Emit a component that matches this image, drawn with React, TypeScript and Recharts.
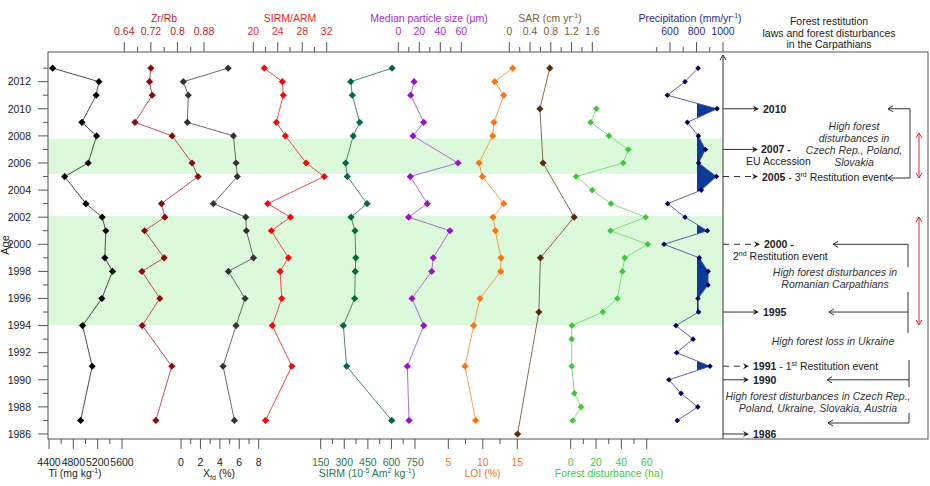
import React from 'react';
import { ComposedChart, Line, Area, XAxis, YAxis, ReferenceArea } from 'recharts';

// ---- data ----
const sampleYears = [2013, 2012, 2011, 2009, 2008, 2006, 2005, 2003, 2002, 2001, 1999, 1998, 1996, 1994, 1991, 1987];
const tiValues = [4460, 5220, 5175, 4941, 5182, 5044, 4657, 5007, 5274, 5334, 5318, 5444, 5269, 4952, 5110, 4920];
const zrRbValues = [0.72, 0.716, 0.724, 0.672, 0.784, 0.844, 0.862, 0.752, 0.762, 0.701, 0.76, 0.693, 0.747, 0.694, 0.783, 0.735];
const xfdValues = [4.85, 0.24, 0.75, 0.65, 5.4, 5.67, 5.8, 3.33, 6.67, 6.73, 7.46, 4.88, 6.6, 5.67, 4.33, 5.5];
const sirmArmValues = [21.8, 24.75, 24.9, 23.77, 25.25, 28.64, 31.6, 22.35, 26.07, 22.95, 25.74, 24.38, 24.65, 23.1, 26.3, 22.0];
const sirmValues = [604, 341, 351, 398, 357, 309, 319, 445, 343, 368, 373, 370, 366, 294, 315, 602];
const loiValues = [14.33, 11.72, 13.03, 11.62, 11.43, 9.45, 9.93, 13.03, 11.48, 11.82, 12.64, 12.59, 9.59, 8.68, 7.42, 8.97];

const medianYears = [2012, 2011, 2009, 2008, 2006, 2005, 2003, 2002, 2001, 1999, 1998, 1996, 1994, 1991, 1987];
const medianValues = [15, 11.8, 24.2, 14, 56.9, 11.4, 27.6, 9.9, 49.2, 33.3, 31.8, 13, 24.2, 8.6, 10.2];

const sarYears = [2013, 2010, 2006, 2002, 1999, 1995, 1986];
const sarValues = [0.78, 0.59, 0.65, 1.25, 0.6, 0.57, 0.16];

const forestYears = [2010, 2009, 2008, 2007, 2006, 2005, 2004, 2003, 2002, 2001, 2000, 1999, 1998, 1996, 1995, 1994, 1993, 1991, 1989, 1988, 1987];
const forestValues = [20.2, 15.8, 30.2, 45.5, 41.5, 4.2, 17, 31.8, 59.2, 31.5, 60.8, 42.6, 40.8, 36.8, 25.3, 1.0, 0.8, 0.8, 2.9, 8.1, 1.6];

const precipYears = [2013, 2012, 2011, 2010, 2009, 2008, 2007, 2006, 2005, 2004, 2003, 2002, 2001, 2000, 1999, 1998, 1997, 1996, 1995, 1994, 1993, 1992, 1991, 1990, 1989, 1988, 1987];
const precipValues = [812, 713, 580, 955, 731, 814, 867, 816, 950, 836, 582, 713, 882, 555, 821, 887, 887, 811, 816, 645, 774, 650, 902, 592, 683, 810, 655];
const precipThreshold = 800;

const majorYears = [1986, 1988, 1990, 1992, 1994, 1996, 1998, 2000, 2002, 2004, 2006, 2008, 2010, 2012];
const minorYears = [1987, 1989, 1991, 1993, 1995, 1997, 1999, 2001, 2003, 2005, 2007, 2009, 2011, 2013];

const bands = [
  [1994, 2002.1],
  [2005.2, 2007.8],
];

// ---- layout ----
const W = 930;
const H = 486;
const PLOT_LEFT = 48;
const PLOT_RIGHT = 928;
const PLOT_TOP = 52;
const PLOT_BOTTOM = 439;
const AGE_DOMAIN: [number, number] = [1985.63, 2014.19];
const FONT = '"Liberation Sans", Arial, Helvetica, sans-serif';
const FRAME = '#555';
const TEXT = '#222';
const BAND = '#dcf9dc';

type AxisDef = {
  id: string;
  side: 'top' | 'bottom';
  v0: number; p0: number; v1: number; p1: number;
  major: number[];
  minor: number[];
  color: string;
};

const axisDefs: AxisDef[] = [
  { id: 'ti', side: 'bottom', v0: 4400, p0: 49, v1: 5600, p1: 122, major: [4400, 4800, 5200, 5600], minor: [4600, 5000, 5400], color: TEXT },
  { id: 'zr', side: 'top', v0: 0.64, p0: 124.3, v1: 0.88, p1: 204, major: [0.64, 0.72, 0.8, 0.88], minor: [0.68, 0.76, 0.84], color: '#c3262b' },
  { id: 'xfd', side: 'bottom', v0: 0, p0: 181, v1: 8, p1: 258.7, major: [0, 2, 4, 6, 8], minor: [1, 3, 5, 7], color: TEXT },
  { id: 'sirmArm', side: 'top', v0: 20, p0: 253.3, v1: 32, p1: 326.7, major: [20, 24, 28, 32], minor: [22, 26, 30], color: '#ec2a2a' },
  { id: 'sirm', side: 'bottom', v0: 150, p0: 320.7, v1: 750, p1: 415, major: [150, 300, 450, 600, 750], minor: [225, 375, 525, 675], color: '#2a7b52' },
  { id: 'median', side: 'top', v0: 0, p0: 398.3, v1: 60, p1: 461.3, major: [0, 20, 40, 60], minor: [10, 30, 50], color: '#a12fd4' },
  { id: 'loi', side: 'bottom', v0: 5, p0: 448.3, v1: 15, p1: 517.3, major: [5, 10, 15], minor: [7.5, 12.5], color: '#f17b22' },
  { id: 'sar', side: 'top', v0: 0, p0: 509.3, v1: 1.6, p1: 592.3, major: [0, 0.4, 0.8, 1.2, 1.6], minor: [0.2, 0.6, 1.0, 1.4], color: '#8a5a2c' },
  { id: 'forest', side: 'bottom', v0: 0, p0: 570.7, v1: 60, p1: 646.7, major: [0, 20, 40, 60], minor: [10, 30, 50], color: '#45c845' },
  { id: 'precip', side: 'top', v0: 600, p0: 670, v1: 1000, p1: 723, major: [600, 800, 1000], minor: [500, 700, 900], color: '#2d2d8c' },
];

const axisById = (id: string) => axisDefs.find((a) => a.id === id) as AxisDef;

const domainOf = (a: AxisDef): [number, number] => {
  const k = (a.p1 - a.p0) / (a.v1 - a.v0);
  return [a.v0 - (a.p0 - PLOT_LEFT) / k, a.v0 + (PLOT_RIGHT - a.p0) / k];
};

const pxOf = (a: AxisDef, v: number) => a.p0 + ((v - a.v0) * (a.p1 - a.p0)) / (a.v1 - a.v0);

const yOf = (yr: number) =>
  PLOT_TOP + ((AGE_DOMAIN[1] - yr) / (AGE_DOMAIN[1] - AGE_DOMAIN[0])) * (PLOT_BOTTOM - PLOT_TOP);

const rows = (years: number[], values: number[]) => years.map((year, i) => ({ year, v: values[i] }));

const axisTick = (a: AxisDef) => (props: any) => {
  const { x, y, payload } = props;
  const isMajor = a.major.includes(payload.value);
  const up = a.side === 'top';
  const len = isMajor ? 10 : 5;
  return (
    <g>
      <line x1={x} x2={x} y1={y} y2={up ? y - len : y + len} stroke={FRAME} strokeWidth={1} />
      {isMajor && (
        <text x={x} y={up ? y - 17.5 : y + 27} textAnchor="middle" fontSize={10.5} fontFamily={FONT} fill={a.color}>
          {String(payload.value)}
        </text>
      )}
    </g>
  );
};

const yearTick = (props: any) => {
  const { x, y, payload } = props;
  const isMajor = majorYears.includes(payload.value);
  return (
    <g>
      <line x1={x} x2={x - (isMajor ? 10 : 5)} y1={y} y2={y} stroke={FRAME} strokeWidth={1} />
      {isMajor && (
        <text x={x - 17} y={y + 3.8} textAnchor="end" fontSize={10.5} fontFamily={FONT} fill={TEXT}>
          {payload.value}
        </text>
      )}
    </g>
  );
};

const diamond = (fill: string, r: number) => (p: any) => {
  const { cx, cy, index } = p;
  if (cx == null || cy == null) return <g key={index} />;
  return <path key={index} d={`M${cx},${cy - r}L${cx + r},${cy}L${cx},${cy + r}L${cx - r},${cy}Z`} fill={fill} />;
};

const series = [
  { id: 'ti', data: rows(sampleYears, tiValues), line: '#3a3a3a', dot: '#000', r: 3.6 },
  { id: 'zr', data: rows(sampleYears, zrRbValues), line: '#b04040', dot: '#8b0a0a', r: 3.6 },
  { id: 'xfd', data: rows(sampleYears, xfdValues), line: '#5a5a5a', dot: '#333', r: 3.6 },
  { id: 'sirmArm', data: rows(sampleYears, sirmArmValues), line: '#f03a3a', dot: '#ee0a0a', r: 3.6 },
  { id: 'sirm', data: rows(sampleYears, sirmValues), line: '#3a7d60', dot: '#05683a', r: 3.6 },
  { id: 'median', data: rows(medianYears, medianValues), line: '#a860d4', dot: '#9a10cc', r: 3.6 },
  { id: 'loi', data: rows(sampleYears, loiValues), line: '#f99040', dot: '#fa7510', r: 3.6 },
  { id: 'sar', data: rows(sarYears, sarValues), line: '#7d5a3a', dot: '#5a2d0a', r: 3.6 },
  { id: 'forest', data: rows(forestYears, forestValues), line: '#70dd70', dot: '#3cc83c', r: 3.3 },
];

const precipRows = rows(precipYears, precipValues);

// superscript: raised text followed by the rest of the line at normal baseline
const Sup = ({ s, after }: { s: string; after: string }) => (
  <>
    <tspan dy={-4} fontSize={7}>{s}</tspan>
    <tspan dy={4}>{after}</tspan>
  </>
);

const ArrowRight = ({ x1, x2, y, dashed }: { x1: number; x2: number; y: number; dashed?: boolean }) => (
  <g>
    <line x1={x1} x2={x2 - 3} y1={y} y2={y} stroke="#333" strokeWidth={1} strokeDasharray={dashed ? '6 5' : undefined} />
    <path d={`M${x2 - 6},${y - 3}L${x2},${y}L${x2 - 6},${y + 3}L${x2 - 4},${y}Z`} fill="#222" />
  </g>
);

const ChevLeft = ({ x, y, color = '#333' }: { x: number; y: number; color?: string }) => (
  <polyline points={`${x + 5},${y - 3} ${x},${y} ${x + 5},${y + 3}`} fill="none" stroke={color} strokeWidth={1} />
);

const RedDouble = ({ x, y1, y2 }: { x: number; y1: number; y2: number }) => (
  <g stroke="#e8262a" strokeWidth={1} fill="none">
    <line x1={x} x2={x} y1={y1} y2={y2} />
    <polyline points={`${x - 3},${y1 + 5} ${x},${y1} ${x + 3},${y1 + 5}`} />
    <polyline points={`${x - 3},${y2 - 5} ${x},${y2} ${x + 3},${y2 - 5}`} />
  </g>
);

export default function App() {
  const precipAxis = axisById('precip');
  // clip starts on a whole pixel so the part of the area left of the threshold leaves no sliver
  const clipX = Math.ceil(pxOf(precipAxis, precipThreshold));
  const arrowX = pxOf(precipAxis, 1000);

  return (
    <div style={{ position: 'absolute', left: 0, top: 0, width: W, height: H, background: '#fff' }}>
      <ComposedChart
        width={W}
        height={H}
        layout="vertical"
        margin={{ top: PLOT_TOP, right: W - PLOT_RIGHT, bottom: H - PLOT_BOTTOM, left: PLOT_LEFT - 40 }}
      >
        <YAxis
          type="number"
          dataKey="year"
          domain={AGE_DOMAIN}
          allowDataOverflow
          reversed
          ticks={[...majorYears, ...minorYears]}
          interval={0}
          width={40}
          tickSize={0}
          tickMargin={0}
          tickLine={false}
          axisLine={false}
          tick={yearTick}
        />
        {axisDefs.map((a) => (
          <XAxis
            key={a.id}
            xAxisId={a.id}
            type="number"
            orientation={a.side}
            domain={domainOf(a)}
            allowDataOverflow
            height={0.001}
            ticks={[...a.major, ...a.minor]}
            interval={0}
            tickSize={0}
            tickMargin={0}
            tickLine={false}
            axisLine={false}
            tick={axisTick(a)}
          />
        ))}
        {bands.map(([lo, hi]) => (
          <ReferenceArea key={lo} xAxisId="precip" x2={1000} y1={lo} y2={hi} fill={BAND} fillOpacity={1} stroke="none" />
        ))}
        {series.map((s) => (
          <Line
            key={s.id}
            xAxisId={s.id}
            data={s.data}
            dataKey="v"
            type="linear"
            stroke={s.line}
            strokeWidth={0.9}
            dot={diamond(s.dot, s.r)}
            activeDot={false}
            isAnimationActive={false}
          />
        ))}
        <Area
          xAxisId="precip"
          data={precipRows}
          dataKey="v"
          type="linear"
          baseValue={precipThreshold}
          fill="#0a3a9a"
          fillOpacity={1}
          stroke="none"
          clipPath="url(#precipClip)"
          dot={false}
          activeDot={false}
          isAnimationActive={false}
        />
        <Line
          xAxisId="precip"
          data={precipRows}
          dataKey="v"
          type="linear"
          stroke="#50509a"
          strokeWidth={0.9}
          dot={diamond('#000066', 2.8)}
          activeDot={false}
          isAnimationActive={false}
        />
      </ComposedChart>

      <svg
        width={W}
        height={H}
        style={{ position: 'absolute', left: 0, top: 0, pointerEvents: 'none' }}
        fontFamily={FONT}
      >
        <defs>
          <clipPath id="precipClip" clipPathUnits="userSpaceOnUse">
            <rect x={clipX} y={PLOT_TOP} width={PLOT_RIGHT - clipX} height={PLOT_BOTTOM - PLOT_TOP} />
          </clipPath>
        </defs>

        {/* plot frame */}
        <rect
          x={PLOT_LEFT}
          y={PLOT_TOP}
          width={PLOT_RIGHT - PLOT_LEFT}
          height={PLOT_BOTTOM - PLOT_TOP}
          fill="none"
          stroke={FRAME}
          strokeWidth={1}
        />

        {/* axis titles, top */}
        <g fontSize={10.5} textAnchor="middle">
          <text x={164} y={21.5} fill="#c3262b">Zr/Rb</text>
          <text x={290} y={21.5} fill="#ec2a2a">SIRM/ARM</text>
          <text x={429} y={21.5} fill="#a12fd4">Median particle size (μm)</text>
          <text x={550} y={21.5} fill="#8a5a2c">
            SAR (cm yr<Sup s="-1" after=")" />
          </text>
          <text x={690} y={21.5} fill="#2d2d8c">
            Precipitation (mm/yr<Sup s="-1" after=")" />
          </text>
          <text x={829} y={25} fill={TEXT}>Forest restitution</text>
          <text x={829} y={37} fill={TEXT}>laws and forest disturbances</text>
          <text x={829} y={48} fill={TEXT}>in the Carpathians</text>
        </g>

        {/* axis titles, bottom */}
        <g fontSize={10.5} textAnchor="middle">
          <text x={75} y={477} fill={TEXT}>
            Ti (mg kg<Sup s="-1" after=")" />
          </text>
          <text x={219} y={477} fill={TEXT}>
            X<tspan dy={3} fontSize={7}>fd</tspan>
            <tspan dy={-3}> (%)</tspan>
          </text>
          <text x={367} y={477} fill="#2a7b52">
            SIRM (10<Sup s="-5" after=" Am" />
            <Sup s="2" after=" kg" />
            <Sup s="-1" after=")" />
          </text>
          <text x={482.5} y={477} fill="#f17b22">LOI (%)</text>
          <text x={609} y={477} fill="#45c845">Forest disturbance (ha)</text>
        </g>

        <text transform="rotate(-90)" x={-245} y={9} textAnchor="middle" fontSize={11} fill={TEXT}>
          Age
        </text>

        {/* timeline axis with arrow */}
        <line x1={arrowX} x2={arrowX} y1={PLOT_BOTTOM} y2={PLOT_TOP + 3} stroke="#333" strokeWidth={1} />
        <polyline
          points={`${arrowX - 3},${PLOT_TOP + 8} ${arrowX},${PLOT_TOP + 3} ${arrowX + 3},${PLOT_TOP + 8}`}
          fill="none"
          stroke="#333"
          strokeWidth={1}
        />

        {/* event arrows */}
        <ArrowRight x1={arrowX} x2={759} y={yOf(2010)} />
        <ArrowRight x1={arrowX} x2={758} y={yOf(2007)} />
        <ArrowRight x1={arrowX} x2={758} y={yOf(2005)} dashed />
        <ArrowRight x1={arrowX} x2={760} y={yOf(2000)} dashed />
        <ArrowRight x1={arrowX} x2={759} y={yOf(1995)} />
        <ArrowRight x1={arrowX} x2={749} y={yOf(1991)} dashed />
        <ArrowRight x1={arrowX} x2={749} y={yOf(1990)} />
        <ArrowRight x1={arrowX} x2={749} y={yOf(1986)} />

        <g fontSize={10.5} fill={TEXT}>
          <text x={763} y={yOf(2010) + 4} fontWeight="bold">2010</text>
          <text x={761} y={yOf(2007) + 4} fontWeight="bold">2007 -</text>
          <text x={746} y={yOf(2007) + 15.5}>EU Accession</text>
          <text x={762} y={yOf(2005) + 4}>
            <tspan fontWeight="bold">2005</tspan>
            <tspan> - 3</tspan>
            <Sup s="rd" after=" Restitution event" />
          </text>
          <text x={764} y={yOf(2000) + 4} fontWeight="bold">2000 -</text>
          <text x={733} y={yOf(2000) + 15.5}>
            <tspan>2</tspan>
            <Sup s="nd" after=" Restitution event" />
          </text>
          <text x={763} y={yOf(1995) + 4} fontWeight="bold">1995</text>
          <text x={753} y={yOf(1991) + 4}>
            <tspan fontWeight="bold">1991</tspan>
            <tspan> - 1</tspan>
            <Sup s="st" after=" Restitution event" />
          </text>
          <text x={753} y={yOf(1990) + 4} fontWeight="bold">1990</text>
          <text x={753} y={yOf(1986) + 4} fontWeight="bold">1986</text>
        </g>

        {/* brackets */}
        <g stroke="#333" strokeWidth={1} fill="none">
          <polyline points={`888,${yOf(2010)} 910,${yOf(2010)} 910,178 888,178`} />
          <polyline points={`833,${yOf(2000)} 908,${yOf(2000)} 908,267`} />
          <polyline points={`908,292 908,333`} />
          <polyline points={`829,${yOf(1995)} 908,${yOf(1995)}`} />
          <polyline points={`909,360 909,387`} />
          <polyline points={`827,${yOf(1990)} 909,${yOf(1990)}`} />
          <polyline points={`909,413 909,423 828,423`} />
        </g>
        <ChevLeft x={888} y={yOf(2010)} />
        <ChevLeft x={888} y={178} />
        <ChevLeft x={833} y={yOf(2000)} />
        <ChevLeft x={829} y={yOf(1995)} />
        <ChevLeft x={827} y={yOf(1990)} />
        <ChevLeft x={828} y={423} />

        <RedDouble x={919} y1={133} y2={178} />
        <RedDouble x={919} y1={217} y2={325} />

        <g fontSize={10.5} fontStyle="italic" fill="#333" textAnchor="middle">
          <text x={854} y={130}>High forest</text>
          <text x={854} y={142}>disturbances in</text>
          <text x={854} y={154}>Czech Rep., Poland,</text>
          <text x={854} y={166}>Slovakia</text>
          <text x={835} y={276}>High forest disturbances in</text>
          <text x={835} y={288}>Romanian Carpathians</text>
          <text x={833} y={344.5}>High forest loss in Ukraine</text>
          <text x={818} y={399.5}>High forest disturbances in Czech Rep.,</text>
          <text x={818} y={412}>Poland, Ukraine, Slovakia, Austria</text>
        </g>
      </svg>
    </div>
  );
}
